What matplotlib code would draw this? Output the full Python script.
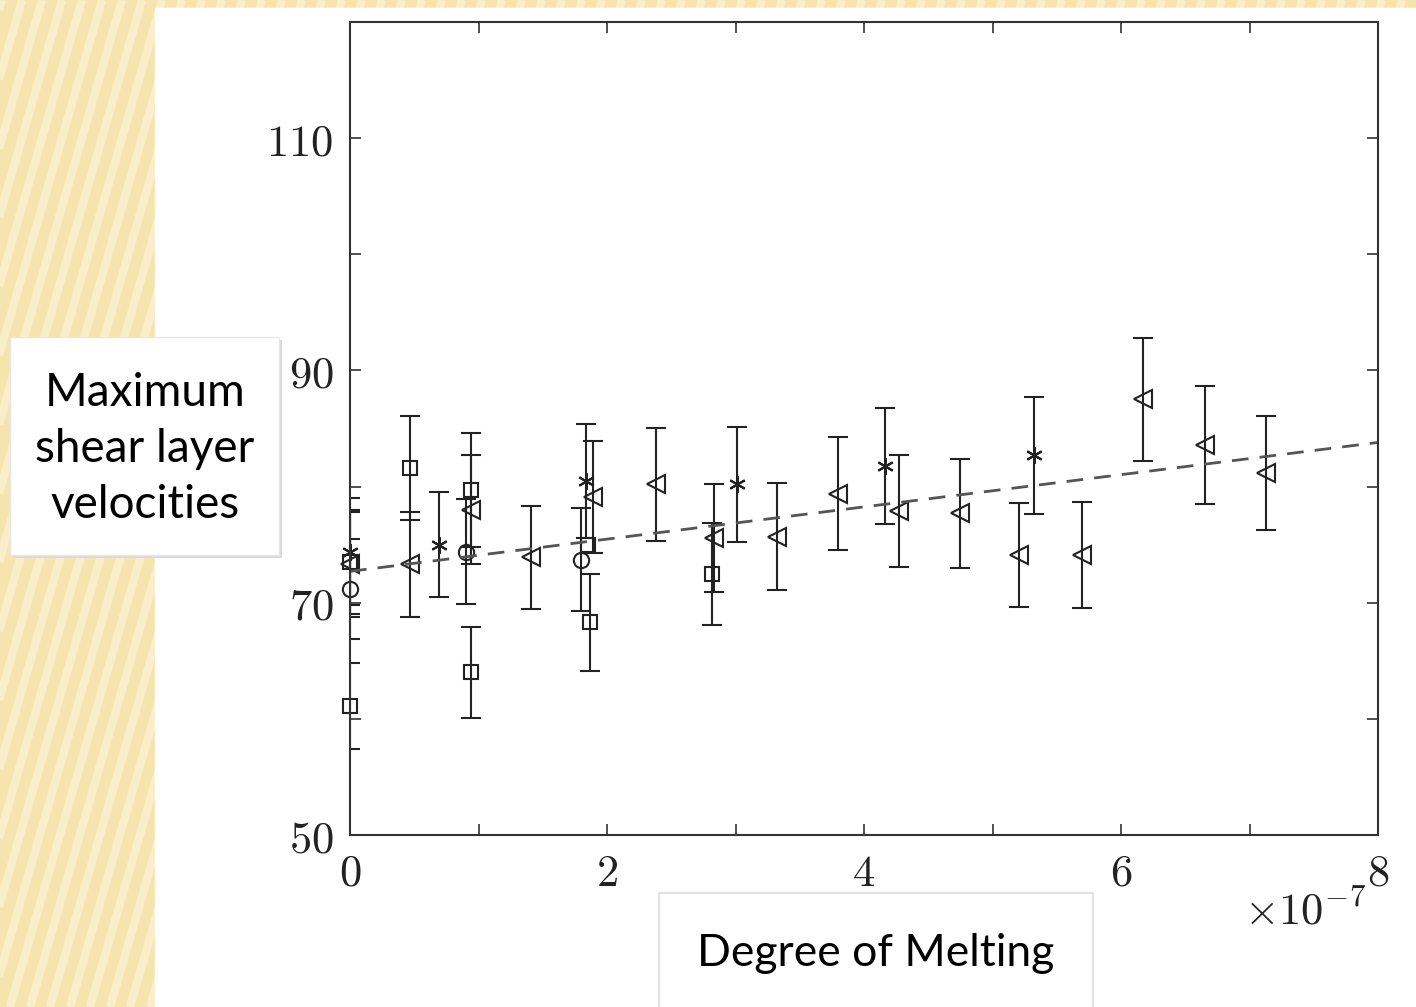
import numpy as np
import matplotlib.pyplot as plt
from matplotlib.patches import Rectangle

# Data (x in units of 1e-7)
tri_x = [0.0, 0.47, 0.94, 1.41, 1.89, 2.38, 2.83, 3.32, 3.80, 4.27, 4.75, 5.21, 5.70, 6.17, 6.65, 7.13]
tri_y = [73.3, 73.3, 78.0, 73.9, 79.1, 80.2, 75.6, 75.7, 79.4, 77.9, 77.7, 74.1, 74.1, 87.5, 83.6, 81.2]
tri_err = [4.5, 4.55, 4.7, 4.45, 4.8, 4.85, 4.65, 4.6, 4.85, 4.8, 4.7, 4.45, 4.55, 5.3, 5.1, 4.9]

sq_x = [0.0, 0.0, 0.47, 0.94, 0.94, 1.87, 2.82]
sq_y = [73.5, 61.1, 81.6, 79.7, 64.0, 68.3, 72.45]
sq_err = [4.5, 3.7, 4.5, 4.9, 3.9, 4.2, 4.4]
sq_extra_x = [1.85]      # square with no visible bar
sq_extra_y = [75.0]

circ_x = [0.0, 0.90, 1.80]
circ_y = [71.2, 74.4, 73.7]
circ_err = [4.3, 4.5, 4.45]

star_x = [0.0, 0.69, 1.84, 3.01, 4.16, 5.32]
star_y = [74.4, 75.0, 80.5, 80.2, 81.8, 82.7]
star_err = [4.6, 4.55, 4.9, 4.95, 5.0, 5.05]

fit_x = [0, 8]
fit_y = [72.7, 83.8]

xticks = [0, 1, 2, 3, 4, 5, 6, 7, 8]
xticklabels = ['$0$', '', '$2$', '', '$4$', '', '$6$', '', '$8$']
yticks = [50, 60, 70, 80, 90, 100, 110, 120]
yticklabels = ['$50$', '', '$70$', '', '$90$', '', '$110$', '']

plt.rcParams['mathtext.fontset'] = 'cm'
W, H = 1416, 1007
fig = plt.figure(figsize=(W / 100, H / 100), dpi=100)

# background slide with soft diagonal stripes
bg = fig.add_axes([0, 0, 1, 1], zorder=0)
bg.set_xlim(0, W)
bg.set_ylim(H, 0)
bg.axis('off')
bg.add_patch(Rectangle((0, 0), W, H, color='#F6E4AE', zorder=0))
for c in range(-450, 1500, 20):
    bg.plot([c, c + H * 0.29], [H, 0], color='#FAEDCA', lw=6, zorder=1, solid_capstyle='butt')
bg.add_patch(Rectangle((155, 8), W - 155, H, color='white', zorder=2))

# text boxes
bg.add_patch(Rectangle((13, 340), 269, 218, facecolor='#DADADA', edgecolor='none', zorder=3))
bg.add_patch(Rectangle((10, 337), 269, 218, facecolor='white', edgecolor='#E6E6E6', lw=1, zorder=4))
bg.text(145, 449, 'Maximum\nshear layer\nvelocities', ha='center', va='center',
        fontsize=33, family='Lato', linespacing=1.4, zorder=5)
bg.add_patch(Rectangle((659, 893), 434, 120, facecolor='white', edgecolor='#E2E2E2', lw=1.5, zorder=4))
bg.text(876, 953, 'Degree of Melting', ha='center', va='center',
        fontsize=32, family='Lato', zorder=5)
bg.text(1305, 912, r'$\times10^{-7}$', ha='center', va='center', fontsize=32, color='#222222', zorder=5)

ax = fig.add_axes([350 / W, 1 - 835 / H, (1378 - 350) / W, (835 - 22) / H], zorder=2)
ax.set_facecolor('none')

col = '#222222'
ekw = dict(fmt='none', ecolor=col, elinewidth=1.5, capsize=7.5, capthick=1.5)
ax.errorbar(tri_x, tri_y, yerr=tri_err, **ekw)
ax.errorbar(sq_x, sq_y, yerr=sq_err, **ekw)
ax.errorbar(circ_x, circ_y, yerr=circ_err, **ekw)
ax.errorbar(star_x, star_y, yerr=star_err, **ekw)

mkw = dict(linestyle='none', markerfacecolor='none', markeredgecolor=col, markeredgewidth=1.5, clip_on=False)
ax.plot(tri_x, tri_y, marker='<', markersize=13, **mkw)
ax.plot(sq_x, sq_y, marker='s', markersize=10, **mkw)
ax.plot(sq_extra_x, sq_extra_y, marker='s', markersize=10, **mkw)
ax.plot(circ_x, circ_y, marker='o', markersize=11, **mkw)
ax.plot(star_x, star_y, marker=(6, 2, 0), markersize=12, **mkw)

ax.plot(fit_x, fit_y, color='#555555', lw=2, linestyle=(0, (6, 4)))

ax.set_xlim(0, 8)
ax.set_ylim(50, 120)
ax.set_xticks(xticks)
ax.set_xticklabels(xticklabels)
ax.set_yticks(yticks)
ax.set_yticklabels(yticklabels)
ax.tick_params(direction='in', length=8, width=1.2, color='#333333', top=True, right=True,
               labelsize=32, labelcolor='#222222', pad=12)
for s in ax.spines.values():
    s.set_color('#333333')
    s.set_linewidth(1.5)

fig.savefig('out.png', dpi=100)
